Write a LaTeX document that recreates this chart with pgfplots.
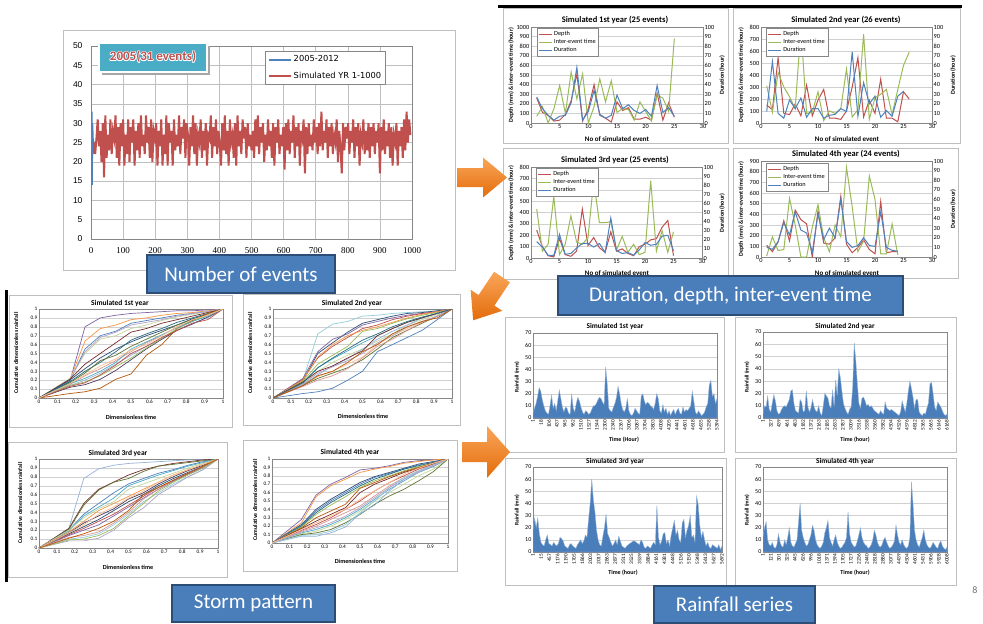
\documentclass[border=0pt]{standalone}
\usepackage{pgfplots}
\usepackage{pgfplotstable}
\pgfplotsset{compat=1.18}
\usepackage{fontspec}
\setmainfont{Carlito}
\newfontfamily\lsans{Liberation Sans}
\newfontfamily\lserif{Liberation Serif}
\newfontfamily\dvs{DejaVu Sans}
\newcommand\fsz[1]{\fontsize{#1}{#1}\selectfont}
\definecolor{xblue}{HTML}{4F81BD}
\definecolor{xred}{HTML}{C0504D}
\definecolor{xgreen}{HTML}{9BBB59}
\definecolor{xpurple}{HTML}{8064A2}
\definecolor{xaqua}{HTML}{4BACC6}
\definecolor{xorange}{HTML}{F79646}
\definecolor{dblue}{HTML}{2C4D75}
\definecolor{dred}{HTML}{772C2A}
\definecolor{dgreen}{HTML}{5F7530}
\definecolor{dpurple}{HTML}{4D3B62}
\definecolor{daqua}{HTML}{276A7C}
\definecolor{dorange}{HTML}{B65708}
\definecolor{lblue}{HTML}{95B3D7}
\definecolor{lred}{HTML}{D99694}
\definecolor{lgreen}{HTML}{C3D69B}
\definecolor{lpurple}{HTML}{B3A2C7}
\definecolor{laqua}{HTML}{93CDDD}
\definecolor{lorange}{HTML}{FAC090}
\definecolor{axc}{HTML}{868686}
\definecolor{gridc}{HTML}{D0D0D0}
\definecolor{framec}{HTML}{BFBFBF}
\definecolor{boxfill}{HTML}{4A7EBB}
\definecolor{boxedge}{HTML}{2C4D75}
\definecolor{arrtop}{HTML}{F9A65A}
\definecolor{arrbot}{HTML}{E46C0A}
\definecolor{rainc}{HTML}{4A7EBB}

\pgfplotscreateplotcyclelist{cycA}{xpurple\\xorange\\xblue\\lgreen\\lpurple\\dred\\dblue\\daqua\\dgreen\\lred\\lblue\\dpurple\\dorange\\xgreen\\xaqua\\xred\\lorange\\}
\pgfplotscreateplotcyclelist{cycB}{laqua\\dblue\\xpurple\\xred\\xorange\\xgreen\\xaqua\\xblue\\lgreen\\lorange\\dgreen\\lred\\lblue\\dred\\lpurple\\daqua\\dorange\\}
\pgfplotscreateplotcyclelist{cycC}{lblue\\dred\\dgreen\\xblue\\xaqua\\lgreen\\xorange\\dpurple\\dblue\\xred\\xpurple\\laqua\\lpurple\\xgreen\\lred\\lorange\\dorange\\}
\pgfplotscreateplotcyclelist{cycD}{xpurple\\xorange\\dblue\\xblue\\daqua\\xgreen\\dorange\\dred\\xred\\lred\\xaqua\\lgreen\\dgreen\\lblue\\laqua\\lpurple\\lorange\\}

\pgfplotsset{
  every axis/.append style={scale only axis, anchor=south west,
    /pgf/number format/assume math mode=true, /pgf/number format/1000 sep={},
    scaled ticks=false, major tick length=0pt, tick style={draw=none},
    axis line style={draw=axc, line width=0.5pt},
    grid style={draw=gridc, line width=0.4pt}},
  dualL/.style={xmin=0, xmax=30, xtick={0,5,...,30}, ymin=0, ymajorgrids,
    ticklabel style={font=\fsz{6.3}, inner sep=1.5pt},
    legend style={font=\fsz{6.3}, draw=axc, line width=0.4pt, inner sep=1pt,
      row sep=-1.8pt, cells={anchor=west}, anchor=north west},
    legend image code/.code={\draw[#1, line width=1pt] (0pt,0pt) -- (13pt,0pt);}},
  dualR/.style={xmin=0, xmax=30, ymin=0, ymax=100, ytick={0,10,...,100},
    axis y line*=right, axis x line=none,
    ticklabel style={font=\fsz{6.3}, inner sep=1.5pt}},
  stormax/.style={xmin=0, xmax=1, ymin=0, ymax=1,
    xtick={0,0.1,0.2,0.3,0.4,0.5,0.6,0.7,0.8,0.9,1},
    ytick={0,0.1,0.2,0.3,0.4,0.5,0.6,0.7,0.8,0.9,1},
    ymajorgrids, ticklabel style={font=\fsz{5.3}, inner sep=1.5pt},
    every axis plot/.append style={line width=0.7pt}},
  rainax/.style={xmin=0, xmax=119, ymin=0, ymax=70, ytick={0,10,...,70},
    xtick={0,5.17,...,119}, ymajorgrids,
    yticklabel style={font=\fsz{6}, inner sep=1.5pt},
    xticklabel style={font=\fsz{5.3}, rotate=90, anchor=east, inner sep=1.5pt}},
}

\pgfplotstableread{
x c1 c2 c3 c4 c5 c6 c7 c8 c9 c10 c11 c12 c13 c14 c15 c16 c17
0 0 0 0 0 0 0 0 0 0 0 0 0 0 0 0 0 0
0.167 0.18 0.20 0.19 0.22 0.20 0.21 0.20 0.18 0.17 0.15 0.14 0.12 0.05 0.14 0.16 0.13 0.16
0.25 0.80 0.64 0.55 0.50 0.52 0.38 0.33 0.30 0.28 0.25 0.20 0.15 0.07 0.18 0.22 0.17 0.26
0.333 0.90 0.78 0.70 0.66 0.68 0.50 0.45 0.40 0.42 0.33 0.28 0.21 0.11 0.25 0.30 0.26 0.36
0.417 0.93 0.82 0.75 0.70 0.74 0.62 0.55 0.52 0.48 0.42 0.38 0.31 0.21 0.35 0.40 0.37 0.44
0.5 0.95 0.88 0.84 0.78 0.82 0.74 0.63 0.65 0.58 0.52 0.48 0.43 0.27 0.45 0.55 0.50 0.54
0.583 0.96 0.90 0.87 0.82 0.85 0.78 0.70 0.72 0.66 0.62 0.58 0.55 0.48 0.56 0.63 0.58 0.60
0.667 0.97 0.93 0.90 0.87 0.88 0.84 0.76 0.78 0.74 0.70 0.66 0.66 0.60 0.67 0.71 0.68 0.70
0.75 0.98 0.95 0.93 0.91 0.92 0.88 0.82 0.85 0.82 0.80 0.76 0.76 0.78 0.78 0.79 0.76 0.80
0.833 0.98 0.96 0.95 0.94 0.95 0.92 0.89 0.90 0.88 0.87 0.84 0.83 0.87 0.86 0.86 0.84 0.88
0.917 0.99 0.98 0.97 0.97 0.97 0.96 0.94 0.95 0.94 0.94 0.90 0.91 0.95 0.93 0.92 0.88 0.93
1 1 1 1 1 1 1 1 1 1 1 1 1 1 1 1 1 1
}\stA
\pgfplotstableread{
x c1 c2 c3 c4 c5 c6 c7 c8 c9 c10 c11 c12 c13 c14 c15 c16 c17
0 0 0 0 0 0 0 0 0 0 0 0 0 0 0 0 0 0
0.167 0.20 0.19 0.22 0.21 0.20 0.19 0.17 0.05 0.16 0.15 0.14 0.13 0.15 0.18 0.16 0.17 0.14
0.25 0.72 0.50 0.52 0.45 0.46 0.38 0.34 0.07 0.30 0.24 0.22 0.20 0.26 0.30 0.28 0.34 0.25
0.333 0.83 0.62 0.66 0.58 0.60 0.48 0.44 0.11 0.40 0.30 0.28 0.25 0.36 0.36 0.35 0.45 0.30
0.417 0.86 0.74 0.72 0.68 0.70 0.58 0.53 0.20 0.48 0.38 0.34 0.33 0.44 0.45 0.42 0.55 0.40
0.5 0.92 0.84 0.82 0.78 0.76 0.75 0.62 0.30 0.55 0.46 0.43 0.45 0.55 0.53 0.50 0.65 0.52
0.583 0.93 0.88 0.86 0.82 0.80 0.78 0.70 0.52 0.64 0.60 0.55 0.58 0.66 0.70 0.62 0.72 0.60
0.667 0.95 0.92 0.90 0.88 0.85 0.84 0.78 0.60 0.72 0.70 0.68 0.66 0.75 0.78 0.70 0.80 0.72
0.75 0.96 0.95 0.93 0.92 0.90 0.89 0.85 0.68 0.82 0.78 0.76 0.76 0.82 0.85 0.80 0.86 0.80
0.833 0.97 0.96 0.95 0.95 0.94 0.93 0.90 0.76 0.88 0.86 0.84 0.85 0.90 0.90 0.86 0.91 0.86
0.917 0.98 0.98 0.97 0.97 0.97 0.96 0.95 0.88 0.94 0.92 0.92 0.92 0.95 0.95 0.92 0.95 0.90
1 1 1 1 1 1 1 1 1 1 1 1 1 1 1 1 1 1
}\stB
\pgfplotstableread{
x c1 c2 c3 c4 c5 c6 c7 c8 c9 c10 c11 c12 c13 c14 c15 c16 c17
0 0 0 0 0 0 0 0 0 0 0 0 0 0 0 0 0 0
0.167 0.22 0.22 0.21 0.20 0.19 0.20 0.18 0.17 0.16 0.15 0.14 0.10 0.08 0.09 0.12 0.17 0.11
0.25 0.78 0.50 0.48 0.38 0.36 0.34 0.30 0.28 0.24 0.22 0.20 0.12 0.08 0.10 0.14 0.26 0.16
0.333 0.89 0.66 0.65 0.50 0.46 0.44 0.42 0.36 0.32 0.30 0.26 0.16 0.11 0.14 0.18 0.38 0.22
0.417 0.93 0.74 0.74 0.62 0.56 0.52 0.50 0.44 0.42 0.38 0.36 0.26 0.20 0.22 0.28 0.46 0.30
0.5 0.95 0.82 0.78 0.72 0.70 0.66 0.58 0.55 0.52 0.48 0.46 0.38 0.34 0.36 0.40 0.56 0.42
0.583 0.96 0.88 0.86 0.78 0.76 0.72 0.66 0.62 0.60 0.58 0.56 0.52 0.45 0.50 0.55 0.64 0.60
0.667 0.97 0.92 0.92 0.84 0.82 0.78 0.74 0.72 0.70 0.68 0.66 0.62 0.60 0.64 0.66 0.74 0.68
0.75 0.98 0.95 0.94 0.88 0.87 0.84 0.82 0.80 0.78 0.76 0.75 0.72 0.70 0.74 0.76 0.82 0.76
0.833 0.99 0.97 0.96 0.93 0.92 0.90 0.88 0.87 0.85 0.84 0.83 0.80 0.80 0.82 0.84 0.88 0.84
0.917 0.99 0.99 0.98 0.97 0.96 0.95 0.94 0.93 0.92 0.91 0.90 0.88 0.88 0.90 0.92 0.94 0.92
1 1 1 1 1 1 1 1 1 1 1 1 1 1 1 1 1 1
}\stC
\pgfplotstableread{
x c1 c2 c3 c4 c5 c6 c7 c8 c9 c10 c11 c12 c13 c14 c15 c16 c17
0 0 0 0 0 0 0 0 0 0 0 0 0 0 0 0 0 0
0.167 0.28 0.24 0.22 0.21 0.20 0.19 0.18 0.17 0.15 0.14 0.12 0.11 0.10 0.08 0.09 0.13 0.16
0.25 0.57 0.55 0.40 0.38 0.36 0.34 0.30 0.26 0.22 0.20 0.16 0.14 0.12 0.08 0.10 0.18 0.24
0.333 0.70 0.68 0.52 0.50 0.48 0.45 0.38 0.34 0.30 0.28 0.22 0.20 0.16 0.12 0.14 0.24 0.32
0.417 0.78 0.76 0.62 0.60 0.58 0.55 0.46 0.42 0.40 0.36 0.30 0.28 0.24 0.19 0.22 0.32 0.40
0.5 0.87 0.84 0.72 0.70 0.68 0.66 0.65 0.60 0.50 0.44 0.40 0.38 0.34 0.35 0.36 0.42 0.52
0.583 0.89 0.88 0.79 0.78 0.76 0.74 0.72 0.70 0.62 0.56 0.52 0.50 0.46 0.45 0.50 0.54 0.62
0.667 0.92 0.91 0.84 0.83 0.82 0.80 0.79 0.77 0.72 0.68 0.64 0.60 0.56 0.62 0.66 0.66 0.72
0.75 0.96 0.95 0.89 0.88 0.88 0.86 0.85 0.84 0.80 0.78 0.74 0.70 0.64 0.76 0.78 0.76 0.82
0.833 0.98 0.97 0.94 0.93 0.92 0.91 0.90 0.89 0.88 0.86 0.84 0.80 0.74 0.84 0.86 0.85 0.89
0.917 0.99 0.99 0.97 0.96 0.96 0.95 0.95 0.94 0.94 0.93 0.91 0.88 0.85 0.92 0.93 0.92 0.95
1 1 1 1 1 1 1 1 1 1 1 1 1 1 1 1 1 1
}\stD

\newcommand\bluebox[5]{%
  \draw[fill=boxfill, draw=boxedge, line width=1.2pt] (#1,#2) rectangle (#3,#4);
  \node[text=white, font=\fsz{21}, inner sep=0pt] at ({(#1+#3)/2},{(#2+#4)/2}) {#5};}
\newcommand\frm[4]{\draw[framec, line width=0.8pt] (#1,#2) rectangle (#3,#4);}

\begin{document}
\begin{tikzpicture}[x=1pt,y=1pt]
\useasboundingbox (0,0) rectangle (983,-624);
\fill[white] (0,0) rectangle (983,-624);

% ---------------- Number of events ----------------
\frm{63}{-30}{455}{-270}
\begin{axis}[at={(91pt,-239pt)}, width=321pt, height=193pt,
  xmin=0, xmax=1000, ymin=0, ymax=50,
  xtick={0,100,...,1000}, ytick={0,5,...,50},
  xmajorgrids, ymajorgrids, grid style={draw=framec, line width=0.5pt},
  axis line style={draw=axc, line width=0.6pt},
  yticklabel style={font=\lsans\fsz{8.5}, xshift=-5pt},
  xticklabel style={font=\lserif\fsz{9}, yshift=-5pt},
  legend style={at={(0.542,0.974)}, anchor=north west, font=\dvs\fsz{8.3},
    draw=axc, line width=0.5pt, inner sep=2.5pt, row sep=5pt, cells={anchor=west}},
  legend image code/.code={\draw[#1, line width=2pt] (0pt,0pt) -- (22pt,0pt);}]
\addplot[xblue, line width=1.8pt] coordinates {(1,31)(2,33)(3,14)(4,30)(5,28)(6,22)(7,26)(8,24)};
\addplot[xred, line width=2pt] table[row sep=\\, x expr=9+\coordindex*3.96, y index=0] {y\\
25\\22\\26\\31\\24\\28\\20\\30\\16\\32\\21\\27\\23\\31\\22\\28\\26\\32\\21\\29\\19\\30\\24\\31\\19\\
27\\22\\31\\20\\29\\25\\31\\19\\28\\23\\30\\21\\32\\24\\27\\22\\32\\25\\29\\21\\31\\20\\28\\26\\30\\
19\\28\\24\\31\\19\\27\\22\\32\\19\\30\\25\\28\\19\\31\\23\\27\\24\\32\\22\\29\\26\\31\\21\\30\\27\\
19\\29\\24\\32\\22\\30\\19\\27\\25\\31\\21\\28\\23\\30\\19\\27\\26\\32\\21\\29\\24\\31\\22\\28\\25\\
19\\30\\23\\32\\22\\28\\19\\31\\25\\27\\21\\30\\19\\32\\24\\28\\22\\31\\26\\29\\21\\30\\24\\27\\23\\
28\\21\\31\\24\\32\\22\\29\\25\\30\\20\\27\\23\\31\\24\\28\\21\\30\\19\\29\\25\\31\\22\\27\\24\\29\\
18\\30\\23\\31\\22\\28\\25\\32\\21\\29\\24\\30\\19\\28\\26\\31\\17\\29\\22\\30\\24\\27\\23\\31\\25\\
29\\22\\30\\24\\33\\23\\28\\25\\31\\21\\29\\24\\30\\22\\27\\25\\31\\20\\28\\24\\17\\30\\23\\29\\26\\
30\\22\\28\\25\\31\\21\\29\\24\\30\\19\\27\\25\\31\\22\\28\\23\\30\\21\\29\\24\\30\\22\\28\\25\\30\\
17\\29\\23\\31\\22\\28\\24\\30\\21\\29\\19\\27\\25\\30\\19\\28\\24\\29\\21\\31\\23\\33\\25\\31\\27\\};
\legend{2005-2012,Simulated YR 1-1000}
\end{axis}
\fill[black!35] (101.5,-45.5) rectangle (209.5,-74.5);
\draw[fill=xaqua, draw=white, line width=1.3pt] (99,-43) rectangle (207,-72);
\foreach \dx/\dy in {0.7/0,-0.7/0,0/0.7,0/-0.7,0.5/0.5,-0.5/0.5,0.5/-0.5,-0.5/-0.5}
  \node[text=white, font=\bfseries\fsz{13}, xshift=\dx pt, yshift=\dy pt] at (153,-57) {2005(31 events)};
\node[text=xred, font=\bfseries\fsz{13}] at (153,-57) {2005(31 events)};
\bluebox{147}{-255}{335}{-293}{Number of events}

% ---------------- Dual charts ----------------
\frm{503}{-8}{728}{-143}
\frm{733}{-8}{960}{-143}
\frm{503}{-148}{728}{-279}
\frm{733}{-148}{958}{-278}

% C1
\begin{axis}[dualL, at={(531pt,-123pt)}, width=172pt, height=96pt, ymax=1000, ytick={0,100,...,1000}, legend style={at={(0.035,0.99)}}]
\addplot[xred, line width=1pt] coordinates {(1,260)(2,110)(3,80)(4,20)(5,30)(6,90)(7,230)(8,510)(9,20)(10,150)(11,400)(12,80)(13,50)(14,10)(15,220)(16,130)(17,160)(18,40)(19,40)(20,60)(21,30)(22,310)(23,30)(24,210)(25,60)};
\addplot[xgreen, line width=1pt] coordinates {(1,70)(2,170)(3,0)(4,150)(5,390)(6,100)(7,530)(8,250)(9,510)(10,0)(11,170)(12,460)(13,220)(14,440)(15,110)(16,150)(17,140)(18,30)(19,220)(20,120)(21,20)(22,290)(23,260)(24,120)(25,880)};
\addlegendimage{xblue, line width=1pt}
\legend{Depth,Inter-event time,Duration}
\end{axis}
\begin{axis}[dualR, at={(531pt,-123pt)}, width=172pt, height=96pt]
\addplot[xblue, line width=1pt] coordinates {(1,27)(2,15)(3,8)(4,3)(5,7)(6,8)(7,21)(8,58)(9,3)(10,12)(11,34)(12,9)(13,5)(14,8)(15,29)(16,15)(17,19)(18,13)(19,10)(20,14)(21,7)(22,39)(23,11)(24,16)(25,7)};
\end{axis}
% C2
\begin{axis}[dualL, at={(761pt,-123pt)}, width=171pt, height=96pt, ymax=800, ytick={0,100,...,800}, legend style={at={(0.03,0.99)}}]
\addplot[xred, line width=1pt] coordinates {(1,150)(2,110)(3,545)(4,80)(5,70)(6,160)(7,60)(8,315)(9,60)(10,190)(11,280)(12,40)(13,40)(14,30)(15,100)(16,300)(17,545)(18,50)(19,190)(20,80)(21,365)(22,40)(23,40)(24,10)(25,260)(26,200)};
\addplot[xgreen, line width=1pt] coordinates {(1,310)(2,90)(3,420)(4,300)(5,220)(6,120)(7,790)(8,80)(9,90)(10,260)(11,20)(12,100)(13,80)(14,120)(15,450)(16,50)(17,110)(18,740)(19,30)(20,210)(21,240)(22,280)(23,70)(24,280)(25,480)(26,590)};
\addlegendimage{xblue, line width=1pt}
\legend{Depth,Inter-event time,Duration}
\end{axis}
\begin{axis}[dualR, at={(761pt,-123pt)}, width=171pt, height=96pt]
\addplot[xblue, line width=1pt] coordinates {(1,12)(2,64)(3,10)(4,5)(5,24)(6,15)(7,26)(8,6)(9,15)(10,15)(11,5)(12,8)(13,9)(14,15)(15,12)(16,74)(17,7)(18,42)(19,20)(20,28)(21,6)(22,13)(23,7)(24,28)(25,33)};
\end{axis}
% C3
\begin{axis}[dualL, at={(531pt,-258pt)}, width=171pt, height=91pt, ymax=800, ytick={0,100,...,800}, legend style={at={(0.03,0.99)}}]
\addplot[xred, line width=1pt] coordinates {(1,245)(2,100)(3,20)(4,10)(5,170)(6,30)(7,15)(8,60)(9,430)(10,110)(11,180)(12,90)(13,50)(14,230)(15,60)(16,80)(17,40)(18,20)(19,100)(20,120)(21,160)(22,170)(23,270)(24,330)(25,20)};
\addplot[xgreen, line width=1pt] coordinates {(1,430)(2,60)(3,120)(4,540)(5,30)(6,120)(7,370)(8,140)(9,120)(10,180)(11,680)(12,310)(13,310)(14,320)(15,70)(16,190)(17,50)(18,120)(19,30)(20,50)(21,680)(22,60)(23,240)(24,50)(25,230)};
\addlegendimage{xblue, line width=1pt}
\legend{Depth,Inter-event time,Duration}
\end{axis}
\begin{axis}[dualR, at={(531pt,-258pt)}, width=171pt, height=91pt]
\addplot[xblue, line width=1pt] coordinates {(1,18)(2,12)(3,3)(4,3)(5,26)(6,4)(7,5)(8,11)(9,16)(10,16)(11,12)(12,16)(13,6)(14,44)(15,8)(16,5)(17,6)(18,3)(19,9)(20,17)(21,14)(22,15)(23,24)(24,25)(25,8)};
\end{axis}
% C4
\begin{axis}[dualL, at={(761pt,-257pt)}, width=171pt, height=96pt, ymax=900, ytick={0,100,...,900}, legend style={at={(0.03,0.98)}}]
\addplot[xred, line width=1pt] coordinates {(1,110)(2,50)(3,140)(4,340)(5,150)(6,440)(7,350)(8,310)(9,0)(10,430)(11,130)(12,120)(13,180)(14,570)(15,120)(16,40)(17,90)(18,160)(19,70)(20,30)(21,520)(22,40)(23,50)(24,50)};
\addplot[xgreen, line width=1pt] coordinates {(1,10)(2,190)(3,60)(4,70)(5,550)(6,300)(7,0)(8,0)(9,280)(10,490)(11,180)(12,50)(13,300)(14,190)(15,840)(16,470)(17,50)(18,150)(19,760)(20,540)(21,30)(22,30)(23,310)(24,20)};
\addlegendimage{xblue, line width=1pt}
\legend{Depth,Inter-event time,Duration}
\end{axis}
\begin{axis}[dualR, at={(761pt,-257pt)}, width=171pt, height=96pt]
\addplot[xblue, line width=1pt] coordinates {(1,10)(2,8)(3,16)(4,36)(5,23)(6,47)(7,28)(8,25)(9,5)(10,45)(11,18)(12,30)(13,20)(14,60)(15,16)(16,10)(17,12)(18,20)(19,12)(20,11)(21,47)(22,10)(23,7)(24,6)};
\end{axis}
% dual-chart texts
\node[font=\bfseries\fsz{8.5}] at (615,-20) {Simulated 1st year (25 events)};
\node[font=\bfseries\fsz{8.5}] at (846,-20) {Simulated 2nd year (26 events)};
\node[font=\bfseries\fsz{8.5}] at (615,-160) {Simulated 3rd year (25 events)};
\node[font=\bfseries\fsz{8.5}] at (846,-154) {Simulated 4th year (24 events)};
\foreach \xx/\yy in {617/-139, 847/-139, 617/-273, 847/-273}
  \node[font=\bfseries\fsz{7}] at (\xx,\yy) {No of simulated event};
\foreach \xx/\yy in {511/-75, 741/-75, 511/-213, 741/-209}
  \node[font=\bfseries\fsz{6}, rotate=90] at (\xx,\yy) {Depth (mm) \& inter-event time (hour)};
\foreach \xx/\yy in {722/-75, 953/-75, 722/-213, 953/-209}
  \node[font=\bfseries\fsz{6}, rotate=90] at (\xx,\yy) {Duration (hour)};
\bluebox{558}{-276}{903}{-315}{Duration, depth, inter-event time}

% ---------------- Storm pattern ----------------
\frm{9}{-295}{232}{-427}
\frm{243}{-294}{460}{-425}
\frm{8}{-442}{227}{-577}
\frm{243}{-440}{457}{-571}
\begin{axis}[stormax, at={(39pt,-398pt)}, width=184pt, height=89pt, cycle list name=cycA]
\pgfplotsinvokeforeach{1,...,17}{\addplot table[x=x, y=c#1] {\stA};}
\end{axis}
\begin{axis}[stormax, at={(273pt,-398pt)}, width=179pt, height=89pt, cycle list name=cycB]
\pgfplotsinvokeforeach{1,...,17}{\addplot table[x=x, y=c#1] {\stB};}
\end{axis}
\begin{axis}[stormax, at={(39pt,-548pt)}, width=179pt, height=89pt, cycle list name=cycC]
\pgfplotsinvokeforeach{1,...,17}{\addplot table[x=x, y=c#1] {\stC};}
\end{axis}
\begin{axis}[stormax, at={(272pt,-543pt)}, width=176pt, height=84pt, cycle list name=cycD]
\pgfplotsinvokeforeach{1,...,17}{\addplot table[x=x, y=c#1] {\stD};}
\end{axis}
\node[font=\bfseries\fsz{7.5}] at (120,-303) {Simulated 1st year};
\node[font=\bfseries\fsz{7.5}] at (352,-303) {Simulated 2nd year};
\node[font=\bfseries\fsz{7.5}] at (118,-453) {Simulated 3rd year};
\node[font=\bfseries\fsz{7.5}] at (350,-452) {Simulated 4th year};
\foreach \xx/\yy in {131/-417, 363/-416, 128/-567, 360/-561}
  \node[font=\bfseries\fsz{6.2}] at (\xx,\yy) {Dimensionless time};
\foreach \xx/\yy in {16/-353, 250/-353, 20/-503, 255/-500}
  \node[font=\bfseries\fsz{5.8}, rotate=90] at (\xx,\yy) {Cumulative dimensionless rainfall};
\fill[black] (5,-290) rectangle (8,-582);
\bluebox{172}{-585}{335}{-622}{Storm pattern}

% ---------------- Rainfall series ----------------
\frm{505}{-317}{724}{-452}
\frm{735}{-317}{956}{-452}
\frm{505}{-458}{726}{-585}
\frm{735}{-458}{956}{-585}
\begin{axis}[rainax, at={(533pt,-418pt)}, width=184pt, height=85pt,
  xticklabels={1,18,106,437,945,962,1510,1527,1544,2300,2340,2367,3006,3087,3704,3803,4008,4205,4441,4601,4618,4635,5238,5394}]
\addplot[fill=rainc, draw=lblue, line width=0.35pt] table[row sep=\\, x expr=\coordindex, y index=0] {y\\
4\\8\\12\\18\\25\\22\\15\\10\\6\\4\\3\\10\\19\\8\\12\\6\\14\\23\\16\\9\\5\\9\\8\\4\\3\\20\\8\\5\\12\\17\\
14\\9\\5\\3\\6\\5\\3\\4\\7\\10\\10\\12\\15\\17\\16\\13\\11\\42\\28\\8\\6\\5\\9\\12\\17\\26\\20\\12\\7\\5\\
8\\16\\6\\3\\2\\4\\8\\6\\4\\3\\18\\20\\14\\11\\13\\12\\10\\9\\7\\12\\20\\16\\6\\4\\11\\5\\8\\3\\6\\2\\
5\\7\\3\\6\\8\\4\\3\\9\\5\\7\\6\\8\\10\\22\\14\\5\\3\\6\\4\\2\\3\\5\\9\\12\\27\\31\\18\\20\\12\\16\\} \closedcycle;
\end{axis}
\begin{axis}[rainax, at={(763pt,-418pt)}, width=184pt, height=86pt,
  xticklabels={1,327,439,461,483,1182,1372,2163,2185,2633,2787,3009,3516,3538,3560,3582,4504,4526,4576,4812,5365,5665,6146,6168}]
\addplot[fill=rainc, draw=lblue, line width=0.35pt] table[row sep=\\, x expr=\coordindex, y index=0] {y\\
3\\10\\9\\18\\7\\5\\12\\19\\14\\6\\3\\4\\7\\9\\10\\9\\12\\15\\22\\23\\12\\6\\5\\4\\15\\13\\5\\6\\22\\9\\
5\\8\\15\\9\\6\\5\\10\\4\\2\\10\\20\\18\\16\\10\\8\\23\\9\\31\\18\\40\\33\\22\\12\\8\\5\\3\\7\\9\\25\\61\\
47\\28\\12\\8\\16\\17\\14\\10\\11\\9\\10\\8\\6\\5\\4\\3\\6\\4\\3\\13\\8\\7\\6\\7\\6\\5\\4\\3\\2\\5\\
14\\9\\5\\12\\22\\30\\24\\17\\8\\15\\15\\5\\3\\2\\4\\3\\8\\12\\28\\29\\20\\9\\6\\13\\11\\9\\6\\3\\2\\3\\} \closedcycle;
\end{axis}
\begin{axis}[rainax, at={(533pt,-552pt)}, width=189pt, height=85pt,
  xticklabels={1,15,457,1176,1190,1705,1866,2003,2017,2863,2877,3511,3525,3539,3884,4161,4381,4448,5136,5150,5348,5613,5627,5692}]
\addplot[fill=rainc, draw=lblue, line width=0.35pt] table[row sep=\\, x expr=\coordindex, y index=0] {y\\
18\\28\\20\\28\\15\\8\\6\\5\\10\\14\\7\\6\\5\\8\\6\\5\\7\\12\\11\\9\\5\\4\\3\\6\\7\\5\\4\\3\\6\\8\\
10\\7\\9\\14\\12\\27\\40\\60\\43\\33\\18\\10\\6\\5\\13\\20\\31\\15\\12\\8\\5\\7\\10\\6\\13\\9\\5\\4\\3\\5\\
6\\7\\8\\9\\9\\8\\7\\6\\10\\8\\4\\3\\5\\4\\3\\6\\8\\6\\38\\12\\6\\9\\15\\16\\7\\10\\5\\14\\20\\26\\
14\\18\\10\\8\\24\\27\\12\\18\\22\\30\\12\\14\\8\\46\\39\\22\\12\\17\\10\\5\\8\\4\\3\\6\\5\\4\\3\\6\\2\\5\\} \closedcycle;
\end{axis}
\begin{axis}[rainax, at={(763pt,-552pt)}, width=184pt, height=85pt,
  xticklabels={1,121,301,325,445,626,996,1018,1371,1594,1705,1727,2236,2440,2818,2880,3077,4439,4504,4601,5431,5906,5928,6008}]
\addplot[fill=rainc, draw=lblue, line width=0.35pt] table[row sep=\\, x expr=\coordindex, y index=0] {y\\
12\\20\\25\\10\\6\\5\\8\\4\\3\\6\\15\\8\\5\\4\\10\\6\\12\\20\\8\\5\\4\\7\\10\\25\\40\\18\\12\\8\\5\\6\\
10\\14\\22\\18\\10\\6\\4\\3\\5\\8\\16\\20\\26\\12\\8\\5\\10\\14\\8\\5\\3\\4\\6\\8\\12\\33\\15\\8\\6\\4\\
5\\9\\14\\20\\12\\8\\6\\5\\3\\4\\6\\10\\18\\14\\8\\5\\4\\6\\10\\12\\8\\5\\3\\4\\6\\9\\22\\14\\8\\6\\
10\\6\\4\\3\\5\\12\\58\\40\\18\\10\\6\\4\\8\\12\\18\\10\\6\\4\\3\\5\\8\\6\\4\\3\\7\\9\\5\\3\\2\\4\\} \closedcycle;
\end{axis}
\node[font=\bfseries\fsz{7.4}] at (615,-326) {Simulated 1st year};
\node[font=\bfseries\fsz{7.4}] at (845,-326) {Simulated 2nd year};
\node[font=\bfseries\fsz{7.4}] at (615,-461) {Simulated 3rd year};
\node[font=\bfseries\fsz{7.4}] at (845,-461) {Simulated 4th year};
\node[font=\bfseries\fsz{6}] at (624,-440) {Time (Hour)};
\node[font=\bfseries\fsz{6}] at (855,-440) {Time (hour)};
\node[font=\bfseries\fsz{6}] at (623,-573) {Time (hour)};
\node[font=\bfseries\fsz{6}] at (855,-573) {Time (hour)};
\foreach \xx/\yy in {517/-377, 747/-377, 517/-510, 747/-510}
  \node[font=\bfseries\fsz{5.5}, rotate=90] at (\xx,\yy) {Rainfall (mm)};
\bluebox{654}{-586}{815}{-623}{Rainfall series}

% ---------------- arrows, borders ----------------
\shade[top color=arrtop, bottom color=arrbot] (457,-168) -- (483,-168) -- (483,-157.5) -- (507,-177.5) -- (483,-197.5) -- (483,-187) -- (457,-187) -- cycle;
\begin{scope}[shift={(502,-277)}, rotate=-123.7]
\shade[top color=arrtop, bottom color=arrbot] (0,-9.5) -- (28,-9.5) -- (28,-19) -- (52,0) -- (28,19) -- (28,9.5) -- (0,9.5) -- cycle;
\end{scope}
\shade[top color=arrtop, bottom color=arrbot] (462,-442) -- (487,-442) -- (487,-426) -- (510,-452) -- (487,-478) -- (487,-462) -- (462,-462) -- cycle;
\fill[black] (498,-5) rectangle (962,-7.5);
\node[text=black!55, font=\fsz{10}] at (975,-590) {8};
\end{tikzpicture}
\end{document}
